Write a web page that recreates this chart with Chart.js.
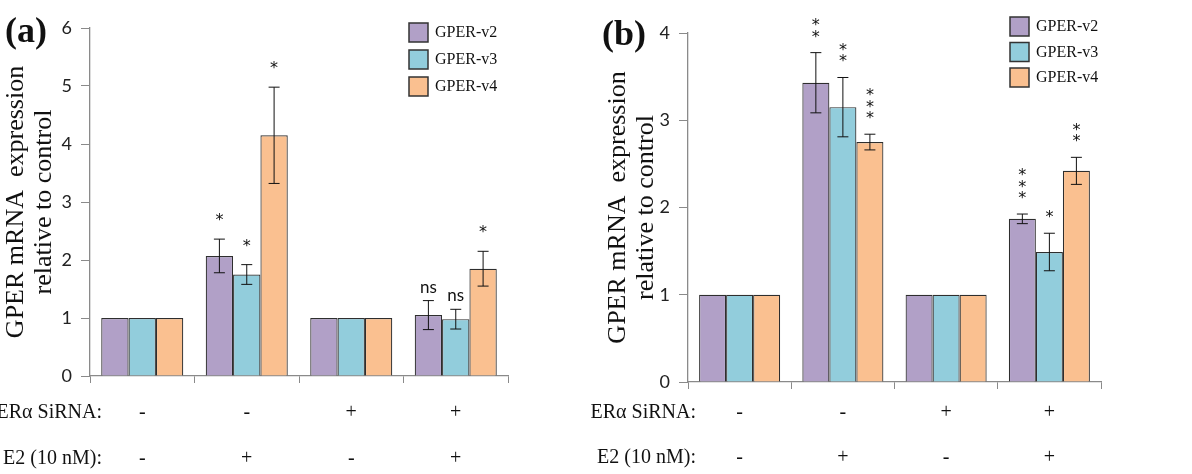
<!DOCTYPE html>
<html>
<head>
<meta charset="utf-8">
<script src="https://cdn.jsdelivr.net/npm/chart.js@4/dist/chart.umd.min.js"></script>
<style>
  body { margin: 0; background: #fff; }
  #wrap { position: relative; width: 1192px; height: 474px; overflow: hidden; }
  canvas { position: absolute; top: 0; }
  #cA { left: 0; }
  #cB { left: 590px; }
</style>
</head>
<body>
<div id="wrap">
  <canvas id="cA" width="590" height="474"></canvas>
  <canvas id="cB" width="602" height="474"></canvas>
</div>
<script>
// treatment rows under the x axis
const siRNA = ['-', '-', '+', '+'];
const e2 = ['-', '+', '-', '+'];
const seriesNames = ['GPER-v2', 'GPER-v3', 'GPER-v4'];
const seriesColors = ['#b1a0c7', '#92cddc', '#fac090'];

// panel (a)
const v2A = [1, 2.07, 1, 1.05];
const v3A = [1, 1.75, 1, 0.98];
const v4A = [1, 4.15, 1, 1.85];
const v2AErr = [0, 0.29, 0, 0.25];
const v3AErr = [0, 0.17, 0, 0.17];
const v4AErr = [0, 0.83, 0, 0.30];
const v2ASig = ['', '*', '', 'ns'];
const v3ASig = ['', '*', '', 'ns'];
const v4ASig = ['', '*', '', '*'];

// panel (b)
const v2B = [1, 3.43, 1, 1.87];
const v3B = [1, 3.15, 1, 1.49];
const v4B = [1, 2.75, 1, 2.42];
const v2BErr = [0, 0.345, 0, 0.055];
const v3BErr = [0, 0.34, 0, 0.215];
const v4BErr = [0, 0.09, 0, 0.155];
const v2BSig = ['', '**', '', '***'];
const v3BSig = ['', '**', '', '*'];
const v4BSig = ['', '***', '', '**'];

const serif = "'Liberation Serif', 'Times New Roman', serif";
const sans = "Lato, 'Open Sans', sans-serif";
const axisGray = '#8a8a8a';

const labels = siRNA.map((s, i) => [s, e2[i]]);

function makeDatasets(vals, errs, sigs){
    return vals.map((v, i) => ({
        label: seriesNames[i],
        data: v,
        errors: errs[i],
        sig: sigs[i],
        backgroundColor: seriesColors[i],
        borderColor: '#2e2e2e',
        borderWidth: 1.2,
        borderSkipped: 'bottom'
    }));
}

// error bars, significance marks, legend, row titles, panel letter
const extras = {
    id: 'extras',
    afterDatasetsDraw(chart, args, o){
        const ctx = chart.ctx;
        const y = chart.scales.y;
        ctx.save();
        chart.data.datasets.forEach((ds, di) => {
            const meta = chart.getDatasetMeta(di);
            meta.data.forEach((bar, i) => {
                const v = ds.data[i], e = ds.errors[i];
                let top = bar.y;
                if(e > 0){
                    top = y.getPixelForValue(v + e);
                    const bot = y.getPixelForValue(v - e);
                    ctx.strokeStyle = '#111';
                    ctx.lineWidth = 1;
                    ctx.beginPath();
                    ctx.moveTo(bar.x, top); ctx.lineTo(bar.x, bot);
                    ctx.moveTo(bar.x - 5.5, top); ctx.lineTo(bar.x + 5.5, top);
                    ctx.moveTo(bar.x - 5.5, bot); ctx.lineTo(bar.x + 5.5, bot);
                    ctx.stroke();
                }
                const s = ds.sig[i];
                if(!s) return;
                ctx.fillStyle = '#111';
                ctx.textAlign = 'center';
                ctx.textBaseline = 'alphabetic';
                if(/^\*+$/.test(s)){
                    ctx.font = "16px 'DejaVu Sans', sans-serif";
                    for(let k = 0; k < s.length; k++){
                        ctx.fillText('*', bar.x, top - o.starOff - k * 11.5);
                    }
                } else {
                    ctx.font = '17px ' + sans;
                    ctx.fillText(s, bar.x, top - 8);
                }
            });
        });
        ctx.restore();
    },
    afterDraw(chart, args, o){
        const ctx = chart.ctx;
        const x = chart.scales.x;
        ctx.save();
        // legend
        chart.data.datasets.forEach((ds, i) => {
            const ty = o.legendY + i * o.legendGap;
            ctx.fillStyle = ds.backgroundColor;
            ctx.fillRect(o.legendX, ty, 19, 19);
            ctx.strokeStyle = '#333';
            ctx.lineWidth = 1.5;
            ctx.strokeRect(o.legendX, ty, 19, 19);
            ctx.fillStyle = '#111';
            ctx.font = '16px ' + serif;
            ctx.textAlign = 'left';
            ctx.textBaseline = 'middle';
            ctx.fillText(ds.label, o.legendX + 26, ty + 10);
        });
        // row titles
        const tl = x.options.grid.tickLength;
        const pad = x.options.ticks.padding;
        const lh = o.rowGap;
        ctx.font = '20px ' + serif;
        ctx.textAlign = 'right';
        ctx.textBaseline = 'middle';
        ctx.fillStyle = '#111';
        ctx.fillText('ERα SiRNA:', o.rowX, x.top + tl + pad + lh / 2);
        ctx.fillText('E2 (10 nM):', o.rowX, x.top + tl + pad + lh * 1.5);
        // panel letter
        ctx.font = 'bold 36px ' + serif;
        ctx.textAlign = 'left';
        ctx.textBaseline = 'alphabetic';
        ctx.fillText(o.letter, o.letterX, o.letterY);
        ctx.restore();
    }
};

function makeChart(id, datasets, cfg){
    return new Chart(document.getElementById(id), {
        type: 'bar',
        data: { labels: labels, datasets: datasets },
        plugins: [extras],
        options: {
            responsive: false,
            animation: false,
            layout: { padding: { top: cfg.top, right: cfg.right, bottom: 0, left: 0 } },
            datasets: { bar: { categoryPercentage: 0.785, barPercentage: 1 } },
            plugins: {
                legend: { display: false },
                tooltip: { enabled: false },
                extras: cfg.extras
            },
            scales: {
                x: {
                    offset: true,
                    grid: { drawOnChartArea: false, offset: true, tickLength: 7, color: axisGray },
                    border: { color: axisGray, width: 1.3 },
                    ticks: {
                        color: '#111', maxRotation: 0, autoSkip: false, padding: cfg.xPad,
                        font: { family: serif, size: 20, lineHeight: cfg.rowGap + 'px' }
                    },
                    afterFit(s){ s.height = 474 - cfg.bottom; }
                },
                y: {
                    min: 0, max: cfg.max,
                    grid: { drawOnChartArea: false, tickLength: 9, color: axisGray },
                    border: { color: axisGray, width: 1.3 },
                    ticks: { stepSize: 1, color: '#222', padding: 9, font: { family: sans, size: 18 } },
                    title: {
                        display: true,
                        text: ['GPER mRNA  expression', 'relative to control'],
                        color: '#111',
                        font: { family: serif, size: 26, lineHeight: '28px' },
                        padding: { top: cfg.titlePad, bottom: 0 }
                    },
                    afterFit(s){ s.width = cfg.left; }
                }
            }
        }
    });
}

makeChart('cA', makeDatasets([v2A, v3A, v4A], [v2AErr, v3AErr, v4AErr], [v2ASig, v3ASig, v4ASig]), {
    top: 28, right: 82, bottom: 376, left: 90, max: 6, xPad: 7, rowGap: 46, titlePad: 2,
    extras: { starOff: 14, legendX: 409, legendY: 23, legendGap: 27, rowX: 102, rowGap: 46,
              letter: '(a)', letterX: 5, letterY: 42 }
});

makeChart('cB', makeDatasets([v2B, v3B, v4B], [v2BErr, v3BErr, v4BErr], [v2BSig, v3BSig, v4BSig]), {
    top: 33, right: 91, bottom: 382, left: 98, max: 4, xPad: 1, rowGap: 45, titlePad: 14,
    extras: { starOff: 11, legendX: 420, legendY: 17, legendGap: 25.5, rowX: 106, rowGap: 45,
              letter: '(b)', letterX: 12, letterY: 45 }
});
</script>
</body>
</html>
